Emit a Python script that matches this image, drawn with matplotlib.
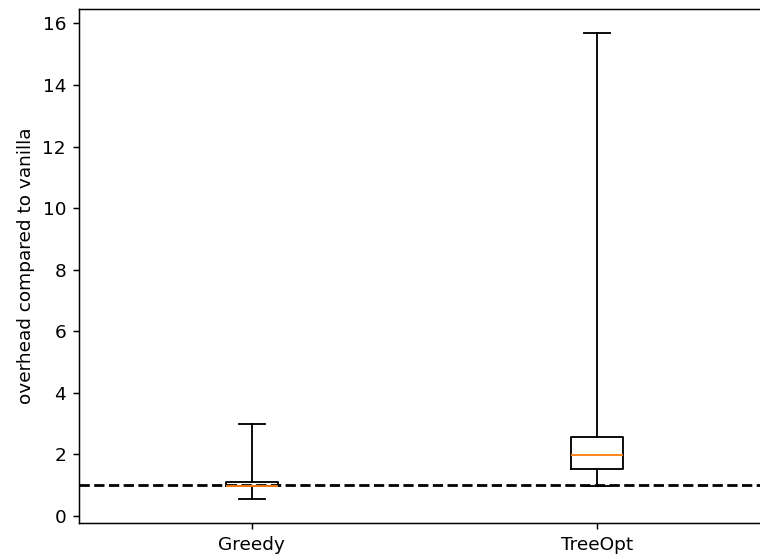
import matplotlib
matplotlib.use("Agg")
import matplotlib.pyplot as plt

labels = ["Greedy", "TreeOpt"]
whislo = [0.54, 0.975]
q1 = [0.985, 1.52]
med = [0.99, 1.99]
q3 = [1.12, 2.58]
whishi = [2.98, 15.7]
baseline = 1.0

stats = [dict(label=l, whislo=a, q1=b, med=c, q3=d, whishi=e, fliers=[])
         for l, a, b, c, d, e in zip(labels, whislo, q1, med, q3, whishi)]

DPI = 400 / 3
fig = plt.figure(figsize=(760 / DPI, 555 / DPI), dpi=DPI)
ax = fig.add_axes([79/760, (555-522.7)/555, 691/760, (522.7-9.3)/555])
ax.bxp(stats, showfliers=False)
ax.axhline(baseline, color="black", linestyle="--")
ax.set_ylabel("overhead compared to vanilla")
fig.savefig("out.png", dpi=DPI)
